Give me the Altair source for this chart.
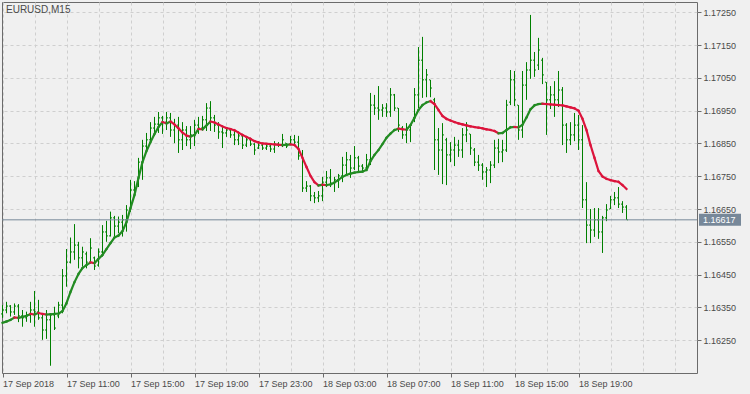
import altair as alt
import pandas as pd

SYMBOL = "EURUSD,M15"
X_LABELS = ["17 Sep 2018", "17 Sep 11:00", "17 Sep 15:00", "17 Sep 19:00", "17 Sep 23:00",
            "18 Sep 03:00", "18 Sep 07:00", "18 Sep 11:00", "18 Sep 15:00", "18 Sep 19:00"]
BARS_PER_LABEL = 16
BARS_PER_GRID = 8
Y_TICKS = [1.1625, 1.1635, 1.1645, 1.1655, 1.1665, 1.1675, 1.1685, 1.1695, 1.1705, 1.1715, 1.1725]

OPEN = [1.16330, 1.16342, 1.16354, 1.16336, 1.16354, 1.16324, 1.16318, 1.16327, 1.16342, 1.16336,
        1.16318, 1.16281, 1.16312, 1.16327, 1.16324, 1.16357, 1.16446, 1.16488, 1.16519, 1.16540,
        1.16501, 1.16513, 1.16488, 1.16501, 1.16479, 1.16519, 1.16580, 1.16568, 1.16623, 1.16598,
        1.16610, 1.16617, 1.16647, 1.16708, 1.16720, 1.16793, 1.16842, 1.16861, 1.16897, 1.16909,
        1.16928, 1.16915, 1.16928, 1.16891, 1.16906, 1.16861, 1.16891, 1.16861, 1.16876, 1.16906,
        1.16897, 1.16922, 1.16958, 1.16928, 1.16906, 1.16885, 1.16882, 1.16891, 1.16876, 1.16861,
        1.16873, 1.16845, 1.16861, 1.16848, 1.16836, 1.16845, 1.16836, 1.16842, 1.16833, 1.16848,
        1.16845, 1.16851, 1.16848, 1.16861, 1.16854, 1.16812, 1.16714, 1.16720, 1.16690, 1.16684,
        1.16690, 1.16732, 1.16745, 1.16729, 1.16739, 1.16751, 1.16784, 1.16800, 1.16775, 1.16806,
        1.16781, 1.16775, 1.16800, 1.16967, 1.16958, 1.16952, 1.16958, 1.16946, 1.16998, 1.16958,
        1.16897, 1.16876, 1.16891, 1.16928, 1.16998, 1.17104, 1.17044, 1.17044, 1.16983, 1.16861,
        1.16830, 1.16861, 1.16815, 1.16830, 1.16845, 1.16830, 1.16876, 1.16879, 1.16830, 1.16793,
        1.16784, 1.16763, 1.16769, 1.16784, 1.16836, 1.16824, 1.16830, 1.16976, 1.17044, 1.16967,
        1.16891, 1.17028, 1.17074, 1.17104, 1.17089, 1.17104, 1.17037, 1.16983, 1.16998, 1.16983,
        1.17013, 1.16906, 1.16861, 1.16876, 1.16906, 1.16861, 1.16678, 1.16601, 1.16586, 1.16617,
        1.16580, 1.16623, 1.16650, 1.16678, 1.16684, 1.16665, 1.16656]

HIGH = [1.16357, 1.16367, 1.16357, 1.16362, 1.16360, 1.16342, 1.16337, 1.16367, 1.16400, 1.16373,
        1.16332, 1.16342, 1.16332, 1.16352, 1.16367, 1.16467, 1.16528, 1.16563, 1.16604, 1.16550,
        1.16535, 1.16520, 1.16561, 1.16505, 1.16530, 1.16601, 1.16614, 1.16642, 1.16629, 1.16627,
        1.16632, 1.16662, 1.16739, 1.16735, 1.16806, 1.16861, 1.16882, 1.16915, 1.16931, 1.16946,
        1.16934, 1.16946, 1.16943, 1.16925, 1.16931, 1.16915, 1.16903, 1.16903, 1.16922, 1.16931,
        1.16934, 1.16973, 1.16979, 1.16937, 1.16915, 1.16900, 1.16900, 1.16894, 1.16888, 1.16885,
        1.16879, 1.16870, 1.16867, 1.16851, 1.16857, 1.16851, 1.16851, 1.16851, 1.16857, 1.16854,
        1.16879, 1.16851, 1.16873, 1.16876, 1.16873, 1.16830, 1.16735, 1.16723, 1.16702, 1.16705,
        1.16748, 1.16766, 1.16772, 1.16748, 1.16757, 1.16809, 1.16824, 1.16815, 1.16842, 1.16812,
        1.16787, 1.16818, 1.17004, 1.16998, 1.17025, 1.16970, 1.16973, 1.17019, 1.17001, 1.16958,
        1.16903, 1.16912, 1.16909, 1.17019, 1.17144, 1.17175, 1.17077, 1.17044, 1.16989, 1.16897,
        1.16912, 1.16867, 1.16854, 1.16870, 1.16861, 1.16897, 1.16915, 1.16879, 1.16836, 1.16815,
        1.16790, 1.16778, 1.16796, 1.16861, 1.16864, 1.16861, 1.16983, 1.17074, 1.17071, 1.16967,
        1.17071, 1.17098, 1.17242, 1.17129, 1.17172, 1.17111, 1.17037, 1.17025, 1.17040, 1.17071,
        1.17022, 1.16912, 1.16915, 1.16943, 1.16937, 1.16906, 1.16732, 1.16650, 1.16653, 1.16653,
        1.16629, 1.16665, 1.16690, 1.16702, 1.16717, 1.16674, 1.16662]

LOW = [1.16318, 1.16332, 1.16322, 1.16327, 1.16305, 1.16291, 1.16306, 1.16303, 1.16291, 1.16312,
       1.16251, 1.16254, 1.16172, 1.16281, 1.16317, 1.16332, 1.16413, 1.16484, 1.16495, 1.16469,
       1.16474, 1.16469, 1.16484, 1.16464, 1.16474, 1.16505, 1.16550, 1.16566, 1.16566, 1.16576,
       1.16566, 1.16581, 1.16641, 1.16687, 1.16717, 1.16739, 1.16824, 1.16851, 1.16873, 1.16882,
       1.16879, 1.16891, 1.16870, 1.16851, 1.16821, 1.16830, 1.16842, 1.16833, 1.16842, 1.16879,
       1.16891, 1.16888, 1.16888, 1.16885, 1.16864, 1.16836, 1.16870, 1.16867, 1.16845, 1.16845,
       1.16833, 1.16839, 1.16842, 1.16815, 1.16833, 1.16830, 1.16830, 1.16824, 1.16821, 1.16839,
       1.16839, 1.16836, 1.16848, 1.16842, 1.16800, 1.16702, 1.16702, 1.16674, 1.16668, 1.16671,
       1.16674, 1.16717, 1.16717, 1.16702, 1.16714, 1.16732, 1.16754, 1.16745, 1.16769, 1.16763,
       1.16763, 1.16769, 1.16784, 1.16937, 1.16922, 1.16931, 1.16931, 1.16931, 1.16949, 1.16885,
       1.16864, 1.16851, 1.16854, 1.16915, 1.16958, 1.16989, 1.16991, 1.16991, 1.16769, 1.16754,
       1.16726, 1.16723, 1.16793, 1.16781, 1.16809, 1.16806, 1.16854, 1.16815, 1.16781, 1.16766,
       1.16739, 1.16717, 1.16729, 1.16775, 1.16790, 1.16793, 1.16824, 1.16967, 1.16964, 1.16861,
       1.16867, 1.16983, 1.17047, 1.17053, 1.17074, 1.17031, 1.16876, 1.16955, 1.16931, 1.16961,
       1.16845, 1.16821, 1.16845, 1.16857, 1.16830, 1.16653, 1.16546, 1.16546, 1.16565, 1.16559,
       1.16516, 1.16613, 1.16650, 1.16662, 1.16653, 1.16638, 1.16617]

CLOSE = [1.16342, 1.16354, 1.16336, 1.16354, 1.16324, 1.16318, 1.16327, 1.16342, 1.16336, 1.16318,
         1.16281, 1.16312, 1.16327, 1.16287, 1.16357, 1.16446, 1.16488, 1.16519, 1.16540, 1.16501,
         1.16519, 1.16488, 1.16531, 1.16476, 1.16519, 1.16580, 1.16568, 1.16623, 1.16598, 1.16610,
         1.16617, 1.16647, 1.16708, 1.16714, 1.16793, 1.16842, 1.16861, 1.16897, 1.16909, 1.16928,
         1.16915, 1.16928, 1.16891, 1.16906, 1.16861, 1.16891, 1.16861, 1.16876, 1.16906, 1.16897,
         1.16922, 1.16958, 1.16928, 1.16906, 1.16885, 1.16882, 1.16891, 1.16876, 1.16861, 1.16873,
         1.16845, 1.16861, 1.16848, 1.16830, 1.16845, 1.16836, 1.16842, 1.16833, 1.16848, 1.16845,
         1.16861, 1.16842, 1.16861, 1.16854, 1.16812, 1.16714, 1.16720, 1.16690, 1.16684, 1.16690,
         1.16732, 1.16745, 1.16729, 1.16739, 1.16751, 1.16784, 1.16800, 1.16775, 1.16806, 1.16781,
         1.16775, 1.16800, 1.16967, 1.16958, 1.16952, 1.16958, 1.16946, 1.16998, 1.16958, 1.16906,
         1.16876, 1.16891, 1.16906, 1.16998, 1.17104, 1.17044, 1.17059, 1.17019, 1.16861, 1.16830,
         1.16876, 1.16815, 1.16830, 1.16845, 1.16830, 1.16876, 1.16891, 1.16836, 1.16793, 1.16784,
         1.16763, 1.16769, 1.16784, 1.16836, 1.16824, 1.16830, 1.16967, 1.17044, 1.16983, 1.16891,
         1.17028, 1.17074, 1.17104, 1.17074, 1.17135, 1.17059, 1.16983, 1.16998, 1.16983, 1.17013,
         1.16906, 1.16861, 1.16876, 1.16906, 1.16861, 1.16678, 1.16601, 1.16586, 1.16617, 1.16580,
         1.16623, 1.16647, 1.16678, 1.16684, 1.16665, 1.16656, 1.16617]

MA = [1.16303, 1.16307, 1.16312, 1.16319, 1.16318, 1.16321, 1.16324, 1.16330, 1.16328, 1.16333,
      1.16330, 1.16328, 1.16329, 1.16330, 1.16331, 1.16339, 1.16363, 1.16397, 1.16427, 1.16452,
      1.16470, 1.16479, 1.16487, 1.16485, 1.16498, 1.16510, 1.16528, 1.16546, 1.16563, 1.16569,
      1.16583, 1.16610, 1.16653, 1.16693, 1.16745, 1.16793, 1.16827, 1.16854, 1.16879, 1.16900,
      1.16915, 1.16911, 1.16917, 1.16908, 1.16896, 1.16883, 1.16874, 1.16871, 1.16876, 1.16894,
      1.16893, 1.16905, 1.16917, 1.16914, 1.16908, 1.16902, 1.16897, 1.16894, 1.16890, 1.16883,
      1.16876, 1.16870, 1.16864, 1.16857, 1.16853, 1.16850, 1.16849, 1.16848, 1.16847, 1.16846,
      1.16845, 1.16846, 1.16847, 1.16845, 1.16833, 1.16806, 1.16778, 1.16751, 1.16732, 1.16722,
      1.16724, 1.16723, 1.16725, 1.16731, 1.16739, 1.16748, 1.16754, 1.16758, 1.16761, 1.16763,
      1.16764, 1.16769, 1.16796, 1.16815, 1.16830, 1.16848, 1.16867, 1.16880, 1.16891, 1.16895,
      1.16893, 1.16892, 1.16906, 1.16928, 1.16952, 1.16967, 1.16975, 1.16979, 1.16970, 1.16952,
      1.16934, 1.16925, 1.16920, 1.16915, 1.16911, 1.16908, 1.16905, 1.16902, 1.16900, 1.16898,
      1.16896, 1.16893, 1.16891, 1.16888, 1.16881, 1.16882, 1.16891, 1.16899, 1.16900, 1.16899,
      1.16907, 1.16929, 1.16954, 1.16966, 1.16970, 1.16971, 1.16970, 1.16969, 1.16968, 1.16967,
      1.16966, 1.16963, 1.16960, 1.16957, 1.16950, 1.16925, 1.16891, 1.16845, 1.16806, 1.16766,
      1.16749, 1.16742, 1.16738, 1.16735, 1.16733, 1.16723, 1.16711]

FONT = "Liberation Sans"
BAR_GREEN = "#008000"
MA_GREEN = "#228b22"
MA_RED = "#dc143c"
PRICE_COLOR = "#778899"
FRAME = "#6b6b6b"
TEXT = "#4a4a4a"
GRID = "#cfcfcf"

n = len(CLOSE)
bars = pd.DataFrame({"k": list(range(n)), "open": OPEN, "high": HIGH, "low": LOW, "close": CLOSE})
seg = pd.DataFrame({"k": list(range(n - 1)), "k2": list(range(1, n)), "ma": MA[:-1], "ma2": MA[1:],
                    "dir": ["up" if b >= a else "down" for a, b in zip(MA[:-1], MA[1:])]})
last = pd.DataFrame({"p": [CLOSE[-1]]})
title_df = pd.DataFrame({"t": [SYMBOL]})

W, H = 695, 371
xscale = alt.Scale(domain=[-0.125, 173.625], nice=False, zero=False)
yscale = alt.Scale(domain=[1.1614985, 1.172814], nice=False, zero=False)

arr = "[" + ",".join("'%s'" % s for s in X_LABELS) + "]"
label_test = (f"datum.value % {BARS_PER_LABEL} === 0 && "
              f"datum.value / {BARS_PER_LABEL} < {len(X_LABELS)}")
label_expr = f"{label_test} ? {arr}[datum.value / {BARS_PER_LABEL}] : ''"

xaxis = alt.Axis(values=list(range(0, 169, BARS_PER_GRID)), labelExpr=label_expr, title=None,
                 grid=True, gridColor=GRID, gridDash=[3, 3], gridWidth=1, domain=False,
                 tickSize=4, tickColor=FRAME,
                 tickOpacity={"condition": {"test": label_test, "value": 1}, "value": 0},
                 labelAlign="left", labelBaseline="top", labelPadding=2, labelFont=FONT,
                 labelFontSize=9, labelColor=TEXT, labelOverlap=False, labelFlush=False)
yaxis = alt.Axis(orient="right", values=Y_TICKS, format=".5f", title=None, grid=True,
                 gridColor=GRID, gridDash=[3, 3], gridWidth=1, domain=False, tickSize=4,
                 tickColor=FRAME, labelPadding=2, labelFont=FONT, labelFontSize=9,
                 labelColor=TEXT, labelOverlap=False, labelFlush=False, labelBaseline="middle")

X = alt.X("k:Q", scale=xscale, axis=xaxis)


def Y(field):
    return alt.Y(field, scale=yscale, axis=yaxis)


hl = alt.Chart(bars).mark_rule(color=BAR_GREEN, strokeWidth=1).encode(
    x=X, y=Y("high:Q"), y2="low:Q")
op = alt.Chart(bars).mark_rule(color=BAR_GREEN, strokeWidth=1, xOffset=-1.5, x2Offset=-0.5).encode(
    x=X, x2="k:Q", y=Y("open:Q"))
cl = alt.Chart(bars).mark_rule(color=BAR_GREEN, strokeWidth=1, xOffset=0.5, x2Offset=1.5).encode(
    x=X, x2="k:Q", y=Y("close:Q"))
ma = alt.Chart(seg).mark_rule(strokeWidth=2.2, strokeCap="square").encode(
    x=X, x2="k2:Q", y=Y("ma:Q"), y2="ma2:Q",
    color=alt.Color("dir:N", scale=alt.Scale(domain=["up", "down"], range=[MA_GREEN, MA_RED]),
                    legend=None))
pline = alt.Chart(last).mark_rule(color=PRICE_COLOR, strokeWidth=1).encode(y=Y("p:Q"))
pbox = alt.Chart(last).mark_rule(color=PRICE_COLOR, strokeWidth=12, strokeCap="butt").encode(
    x=alt.value(697), x2=alt.value(739), y=Y("p:Q"))
ptext = alt.Chart(last).mark_text(align="left", baseline="middle", color="white", font=FONT,
                                  fontSize=9).encode(
    x=alt.value(701), y=Y("p:Q"), text=alt.Text("p:Q", format=".5f"))
ttl = alt.Chart(title_df).mark_text(align="left", baseline="top", color=TEXT, font=FONT,
                                    fontSize=10).encode(
    x=alt.value(4), y=alt.value(3), text="t:N")

chart = alt.layer(hl, op, cl, ma, pline, pbox, ptext, ttl).properties(
    width=W, height=H,
    padding={"left": 2, "top": 2, "right": 53, "bottom": 21},
    autosize=alt.AutoSizeParams(type="none"),
    background="#f0f0f0",
).configure_view(stroke=FRAME, strokeWidth=1)

chart.save("out.html", embed_options={"renderer": "svg", "actions": False})
